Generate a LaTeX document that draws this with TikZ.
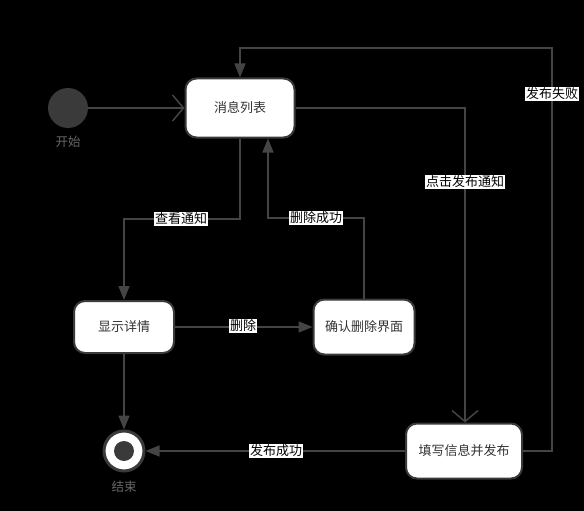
\documentclass[tikz,border=0pt]{standalone}
\usepackage{fontspec}
\setmainfont{Noto Sans CJK SC}
\usetikzlibrary{arrows.meta}
\definecolor{edgec}{HTML}{444444}
\definecolor{nodeb}{HTML}{3A3A3A}
\begin{document}
\begin{tikzpicture}[x=1pt,y=-1pt,
  state/.style={draw=nodeb,line width=2pt,fill=white,rounded corners=11pt,minimum height=58pt,align=center,font=\fontsize{13}{15}\selectfont,text=black!80},
  lab/.style={fill=white,inner sep=1pt,font=\fontsize{13}{14}\selectfont,text=black},
  edge/.style={draw=edgec,line width=1.5pt},
  tri/.style={-{Triangle[length=14pt,width=11pt]}},
  opn/.style={-{Straight Barb[length=11pt,width=26pt,line width=1.5pt]}},
  captext/.style={text=black!60,font=\fontsize{12.5}{14}\selectfont}]
\fill[black] (0,0) rectangle (584,511);
\useasboundingbox (0,0) rectangle (584,511);
% nodes
\node[circle,fill=nodeb,minimum size=40pt,inner sep=0pt] (start) at (68,108) {};
\node[captext] (startl) at (68,142) {开始};
\node[state,minimum width=109pt,minimum height=59pt] (list) at (240,108) {消息列表};
\node[state,minimum width=100pt,minimum height=52pt] (detail) at (124,327) {显示详情};
\node[state,minimum width=101pt,minimum height=55pt] (confirm) at (364,327) {确认删除界面};
\node[state,minimum width=116pt,minimum height=55pt] (fill) at (464,451) {填写信息并发布};
\node[circle,draw=nodeb,line width=3pt,fill=white,minimum size=40pt,inner sep=0pt] (end) at (124,451) {};
\node[circle,fill=nodeb,minimum size=20pt,inner sep=0pt] (endin) at (end.center) {};
\node[captext] (endl) at (124,487) {结束};
% coordinates
\coordinate (a1) at (240,219);
\coordinate (a2) at (124,219);
\coordinate (b1) at (364,218);
\coordinate (b2) at (268,218);
\coordinate (c1) at (465,108);
\coordinate (d1) at (552,451);
\coordinate (d2) at (552,48);
\coordinate (d3) at (240,48);
% edges
\draw[edge,opn] (start.east) -- (list.west);
\draw[edge,tri] (list.south) -- (a1) -- (a2) -- (detail.north);
\node[lab] (l1) at (181,219) {查看通知};
\draw[edge,tri] (confirm.north) -- (b1) -- (b2) -- (b2 |- list.south);
\node[lab] (l2) at (316,218) {删除成功};
\draw[edge,tri] (detail.east) -- (confirm.west |- detail.east);
\node[lab] (l3) at (243,326) {删除};
\draw[edge,tri] (detail.south) -- (end.north);
\draw[edge,opn] (list.east) -- (c1) -- (c1 |- fill.north);
\node[lab] (l4) at (465,182) {点击发布通知};
\draw[edge,tri] (fill.east) -- (d1) -- (d2) -- (d3) -- (list.north);
\node[lab] (l5) at (552,94) {发布失败};
\draw[edge,tri] (fill.west) -- (end.east);
\node[lab] (l6) at (276,451) {发布成功};
\end{tikzpicture}
\end{document}
